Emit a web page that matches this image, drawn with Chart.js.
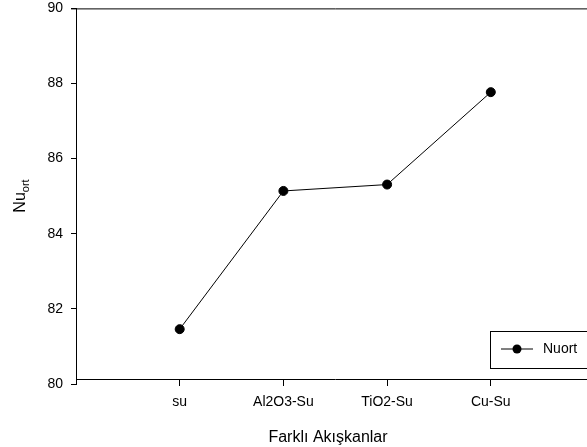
<!DOCTYPE html>
<html>
<head>
<meta charset="utf-8">
<script src="https://cdn.jsdelivr.net/npm/chart.js@4"></script>
<style>
  html, body { margin: 0; padding: 0; background: #fff; overflow: hidden; }
  #wrap { width: 600px; height: 455px; margin-top: -8px; }
</style>
</head>
<body>
<div id="wrap"><canvas id="lineChart"></canvas></div>
<script>
// Categorías y valores
const categories = ['su', 'Al2O3-Su', 'TiO2-Su', 'Cu-Su'];
const nuValues = [81.46, 85.14, 85.31, 87.77];
const yTicks = [80, 82, 84, 86, 88, 90];

const fontName = "'Liberation Sans', Arial, sans-serif";
const dy = 8; // el lienzo sube 8px

// Títulos de ejes, borde superior y leyenda dibujados a mano
const extras = {
    id: 'extras',
    afterDraw(chart) {
        const c = chart.ctx;
        const area = chart.chartArea;
        c.save();
        c.strokeStyle = '#000';
        c.fillStyle = '#000';
        c.lineWidth = 1;
        // borde superior
        c.beginPath();
        c.moveTo(area.left - 5, area.top + 0.5);
        c.lineTo(chart.width, area.top + 0.5);
        c.stroke();

        // título eje X
        c.font = '16px ' + fontName;
        c.textAlign = 'center';
        c.textBaseline = 'middle';
        c.fillText('Farklı Akışkanlar', 328, 438 + dy);

        // título eje Y con subíndice
        c.translate(19, 196 + dy);
        c.rotate(-Math.PI / 2);
        c.font = '16px ' + fontName;
        const w1 = c.measureText('Nu').width;
        c.font = '11px ' + fontName;
        const w2 = c.measureText('ort').width;
        const x0 = -(w1 + w2) / 2;
        c.textAlign = 'left';
        c.textBaseline = 'alphabetic';
        c.font = '16px ' + fontName;
        c.fillText('Nu', x0, 6);
        c.font = '11px ' + fontName;
        c.fillText('ort', x0 + w1, 10);
        c.setTransform(1, 0, 0, 1, 0, 0);

        // leyenda
        const ly = 349 + dy;
        c.strokeRect(490.5, 331.5 + dy, 200, 37);
        c.beginPath();
        c.moveTo(501, ly);
        c.lineTo(533, ly);
        c.stroke();
        c.beginPath();
        c.arc(517, ly, 4.5, 0, Math.PI * 2);
        c.fill();
        c.font = '14px ' + fontName;
        c.textAlign = 'left';
        c.textBaseline = 'middle';
        c.fillText(chart.data.datasets[0].label, 543, ly);
        c.restore();
    }
};

const ctx = document.getElementById('lineChart').getContext('2d');

const tickColor = function(context) {
    const v = context.tick ? context.tick.value : null;
    return (v >= 1 && v <= categories.length && Number.isInteger(v)) ? '#000' : 'rgba(0,0,0,0)';
};

const lineChart = new Chart(ctx, {
    type: 'line',
    data: {
        datasets: [{
            label: 'Nuort',
            data: nuValues.map((v, i) => ({ x: i + 1, y: v })),
            borderColor: '#000',
            backgroundColor: '#000',
            borderWidth: 1,
            pointRadius: 4.5,
            pointHoverRadius: 4.5,
            tension: 0
        }]
    },
    options: {
        responsive: true,
        maintainAspectRatio: false,
        animation: false,
        layout: {
            padding: { top: 0, right: 0, bottom: 63, left: 0 }
        },
        scales: {
            x: {
                type: 'linear',
                min: 0,
                max: 5,
                position: { y: 80.13 },
                afterFit: function(scale) { scale.height = 0; },
                afterBuildTicks: function(scale) {
                    scale.ticks = categories.map((c, i) => ({ value: i + 1 }));
                },
                ticks: {
                    autoSkip: false,
                    maxRotation: 0,
                    padding: 9,
                    color: '#000',
                    font: { family: fontName, size: 14 },
                    callback: function(value) { return categories[value - 1]; }
                },
                grid: {
                    drawOnChartArea: false,
                    drawTicks: true,
                    tickLength: 6,
                    color: tickColor
                },
                border: { color: '#000', width: 1 }
            },
            y: {
                min: 80,
                max: 90,
                afterFit: function(scale) { scale.width = 76; },
                afterBuildTicks: function(scale) {
                    scale.ticks = yTicks.map(v => ({ value: v }));
                },
                ticks: {
                    padding: 8,
                    color: '#000',
                    font: { family: fontName, size: 14 }
                },
                grid: {
                    drawOnChartArea: false,
                    drawTicks: true,
                    tickLength: 5,
                    color: '#000'
                },
                border: { color: '#000', width: 1 }
            }
        },
        plugins: {
            legend: { display: false },
            tooltip: { enabled: false }
        }
    },
    plugins: [extras]
});
</script>
</body>
</html>
